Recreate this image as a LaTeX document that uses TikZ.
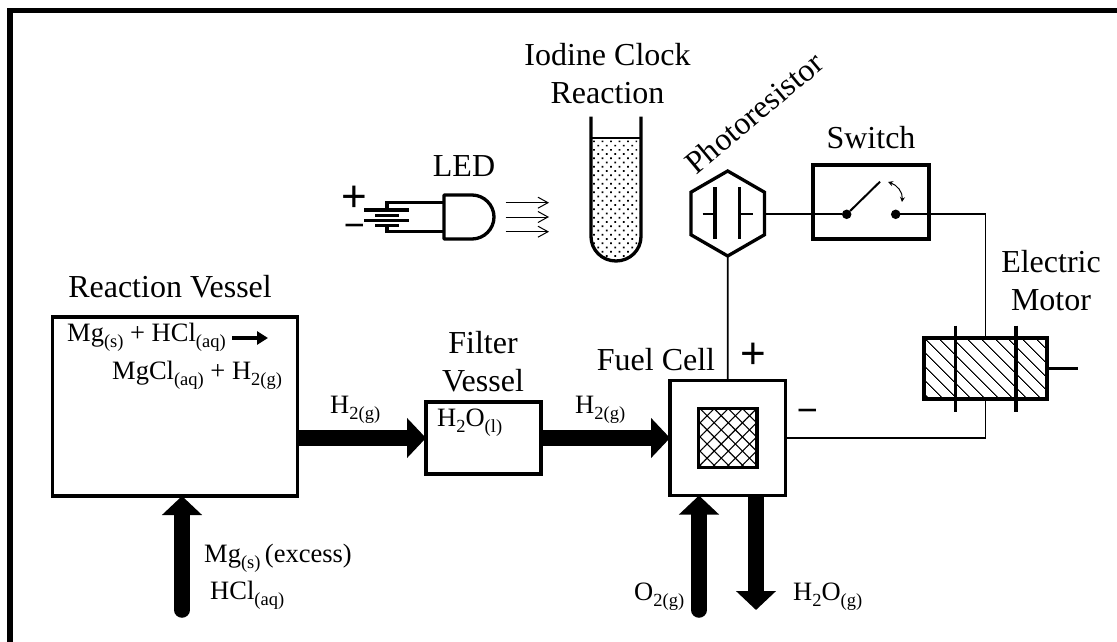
\documentclass[tikz,border=0pt]{standalone}
\usepackage{fontspec}
\setmainfont{Liberation Serif}
\newfontfamily\signfont{Liberation Sans}
\usetikzlibrary{arrows.meta, shapes.geometric, patterns.meta}
\newcommand{\chemsub}[1]{\raisebox{-0.22em}{\fontsize{18.5}{19}\selectfont #1}}
\tikzset{
  bigtext/.style={font=\fontsize{32}{38}\selectfont, inner sep=0pt, align=center},
  chemtext/.style={font=\fontsize{26.5}{38}\selectfont, inner sep=0pt, anchor=west},
  signtext/.style={font=\fontsize{44}{44}\selectfont\signfont, inner sep=0pt},
  unitbox/.style={draw, line width=3.3pt, inner sep=0pt, outer sep=0pt},
  wire/.style={line width=1.7pt},
  flowarrow/.style={line width=15.5pt, -{Triangle[length=19pt,width=39pt]}},
  lightray/.style={line width=1pt, -{Straight Barb[length=10pt,width=11pt]}},
  contact/.style={circle, fill, inner sep=0pt, outer sep=0pt, minimum size=9.5pt}
}
\begin{document}
\begin{tikzpicture}[x=1pt,y=-1pt]
  \useasboundingbox (0,0) rectangle (1117,642);
  % Frame
  \draw[line width=5.5pt] (10,642) -- (10,10.5) -- (1117,10.5);

  % Reaction vessel
  \node[unitbox, minimum width=245pt, minimum height=179pt] (vessel) at (175,406.5) {};
  \node[bigtext] (vessellabel) at (170,287) {Reaction Vessel};
  \node[chemtext] (eqleft) at (67,337) {Mg\chemsub{(s)} + HCl\chemsub{(aq)}};
  \node[chemtext] (eqright) at (112,375) {MgCl\chemsub{(aq)} + H\chemsub{2(g)}};
  \coordinate (eqstart) at (232,338);
  \coordinate (eqend) at (268,338);
  \draw[line width=3.5pt, -{Triangle[length=11pt,width=13pt]}] (eqstart) -- (eqend);

  % Filter vessel
  \node[unitbox, minimum width=115pt, minimum height=72pt] (filter) at (483.5,438) {};
  \node[bigtext] (filterlabel) at (483,362) {Filter\\Vessel};
  \node[chemtext] (filtertext) at (437,423) {H\chemsub{2}O\chemsub{(l)}};

  % Fuel cell
  \node[unitbox, minimum width=115.5pt, minimum height=115pt] (fuelcell) at (727.8,438) {};
  \node[draw, line width=3.3pt, minimum size=58.5pt, inner sep=0pt, pattern={Lines[angle=45,distance=10pt,line width=1.1pt]}] (cellcore) at (727.8,438) {};
  \path[pattern={Lines[angle=-45,distance=10pt,line width=1.1pt]}] (cellcore.south west) rectangle (cellcore.north east);
  \node[bigtext] (celllabel) at (656,360) {Fuel Cell};
  \node[signtext] (cellplus) at (753,356) {+};
  \node[signtext] (cellminus) at (807.5,416) {\fontsize{36}{36}\selectfont −};

  % Flow arrows
  \coordinate (mgin) at (182,610);
  \coordinate (o2in) at (699,610);
  \coordinate (h2oout) at (756,610);
  \draw[flowarrow] (vessel.east |- filter.west) -- (filter.west);
  \draw[flowarrow] (filter.east) -- (fuelcell.west);
  \draw[flowarrow, line cap=round] (mgin) -- (mgin |- vessel.south);
  \draw[flowarrow, line cap=round] (o2in) -- (o2in |- fuelcell.south);
  \draw[flowarrow] (h2oout |- fuelcell.south) -- (h2oout);

  % Flow labels
  \node[chemtext] (h2first) at (330,410) {H\chemsub{2(g)}};
  \node[chemtext] (h2second) at (575,410) {H\chemsub{2(g)}};
  \node[chemtext] (mglabel) at (204,558) {Mg\chemsub{(s)}\,(excess)};
  \node[chemtext] (hcllabel) at (210,595) {HCl\chemsub{(aq)}};
  \node[chemtext] (o2label) at (634,597) {O\chemsub{2(g)}};
  \node[chemtext] (h2olabel) at (793,597) {H\chemsub{2}O\chemsub{(g)}};

  % LED
  \node[bigtext] (ledlabel) at (464,166) {LED};
  \draw[line width=3.3pt, line join=round] (444,195) -- (472,195) .. controls (484,195) and (494,205) .. (494,217) .. controls (494,229) and (484,239) .. (472,239) -- (444,239) -- cycle;
  \draw[line width=3.3pt] (387,210) -- (387,202.7) -- (444,202.7);
  \draw[line width=3.3pt] (387,226) -- (387,231.7) -- (444,231.7);
  \draw[line width=3.3pt] (364,210) -- (409,210);
  \draw[line width=3.3pt] (375,215.7) -- (399,215.7);
  \draw[line width=3.3pt] (364,220.7) -- (409,220.7);
  \draw[line width=3.3pt] (375,225.7) -- (399,225.7);
  \node[signtext] (ledplus) at (354.5,199) {+};
  \node[signtext] (ledminus) at (354.5,231) {\fontsize{36}{36}\selectfont −};
  \foreach \y in {202.7,217,231.7} {
    \coordinate (raystart) at (505.7,\y);
    \coordinate (rayend) at (549,\y);
    \draw[lightray] (raystart) -- (rayend);
  }

  % Iodine clock tube
  \node[bigtext] (tubelabel) at (607.5,74) {Iodine Clock\\Reaction};
  \path[pattern={Dots[distance=6pt,radius=1.2pt,angle=45]}] (591,138) -- (641,138) -- (641,236.5) .. controls (641,250) and (630,261) .. (616,261) .. controls (602,261) and (591,250) .. (591,236.5) -- cycle;
  \draw[line width=1.5pt] (591,138) -- (641,138);
  \draw[line width=3.3pt] (591,116.7) -- (591,236.5) .. controls (591,250) and (602,261) .. (616,261) .. controls (630,261) and (641,250) .. (641,236.5) -- (641,116.7);

  % Photoresistor
  \node[draw, line width=3.3pt, regular polygon, regular polygon sides=6, shape border rotate=30, minimum size=85pt, inner sep=0pt, outer sep=0pt] (photo) at (727.7,213.5) {};
  \node[bigtext, rotate=40] (photolabel) at (754,113) {Photoresistor};
  \draw[line width=3.3pt] (715,187) -- (715,239);
  \draw[line width=3.3pt] (739.5,187) -- (739.5,239);
  \draw[line width=2.8pt] (702.5,214) -- (715,214);
  \draw[line width=2.8pt] (739.5,214) -- (752.5,214);

  % Switch
  \node[unitbox, minimum width=116pt, minimum height=74pt] (switch) at (871,202) {};
  \node[bigtext] (switchlabel) at (871,138) {Switch};
  \node[contact] (contactleft) at (846.7,214.3) {};
  \node[contact] (contactright) at (895.7,214.3) {};
  \coordinate (bladeend) at (880,181.7);
  \coordinate (swingstart) at (888,182);
  \coordinate (swingend) at (902,202);
  \draw[line width=2pt] (contactleft) -- (bladeend);
  \draw[line width=1pt, {Stealth[length=5pt,width=5pt]}-{Stealth[length=5pt,width=5pt]}] (swingstart) .. controls (897,185) and (903,192) .. (swingend);

  % Electric motor
  \node[unitbox, minimum width=123pt, minimum height=61pt, pattern={Lines[angle=-45,distance=10.5pt,line width=1.2pt]}] (motor) at (985.5,368.5) {};
  \node[bigtext] (motorlabel) at (1051,281) {Electric\\Motor};
  \coordinate (polefirsttop) at (955.7,325.7);
  \coordinate (polefirstbot) at (955.7,412);
  \coordinate (polesecondtop) at (1016,325.7);
  \coordinate (polesecondbot) at (1016,412);
  \coordinate (shaftend) at (1078,368.5);
  \draw[line width=3.3pt] (polefirsttop) -- (polefirstbot);
  \draw[line width=3.3pt] (polesecondtop) -- (polesecondbot);
  \draw[line width=3.3pt] (motor.east) -- (shaftend);

  % Wires
  \draw[wire] (photo.south) -- (fuelcell.north);
  \draw[wire] (photo.east |- contactleft) -- (contactleft);
  \draw[wire] (contactright) -| (motor.north);
  \draw[wire] (fuelcell.east) -| (motor.south);
\end{tikzpicture}
\end{document}
